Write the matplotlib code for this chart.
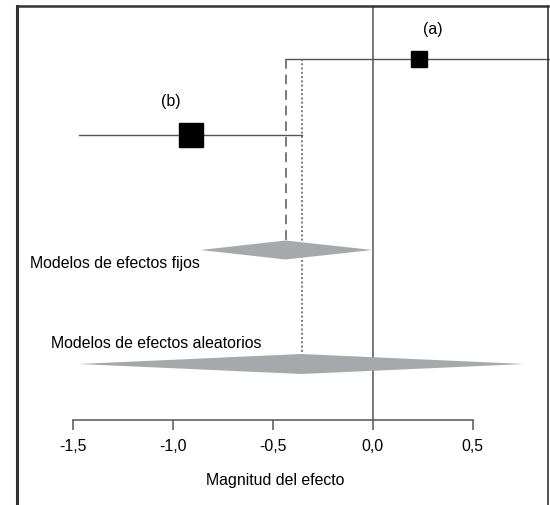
import matplotlib
matplotlib.use("Agg")
import matplotlib.pyplot as plt
from matplotlib.lines import Line2D

plt.rcParams['font.family'] = ['Liberation Sans', 'DejaVu Sans']

# individual studies
study_labels = ["(a)", "(b)"]
study_est = [0.23, -0.91]
study_lo = [-0.435, -1.47]
study_hi = [0.88, -0.355]

# pooled estimates
pooled_names = ["Modelos de efectos fijos", "Modelos de efectos aleatorios"]
pooled_est = [-0.435, -0.355]
pooled_lo = [-0.86, -1.47]
pooled_hi = [0.0, 0.76]

xticks = [-1.5, -1.0, -0.5, 0.0, 0.5]
xtick_labels = ["-1,5", "-1,0", "-0,5", "0,0", "0,5"]

W, H = 550, 505
FS = 11.4
fig = plt.figure(figsize=(W / 100, H / 100), dpi=100)
ax = fig.add_axes([0, 85 / H, 1, 414 / H])
ax.set_xlim(-372.5 / 200, (W - 372.5) / 200)
ax.set_ylim(420, 6)

# row positions (pixels from top)
study_y = [59, 135]
pooled_y = [250, 364]
half_h = [9.5, 10]
msize = [12, 17]

gray_line = "#555555"
diamond_col = "#a6a9ac"

ax.axvline(0, color=gray_line, lw=1.1, zorder=1)

for lab, e, lo, hi, y, ms in zip(study_labels, study_est, study_lo, study_hi, study_y, msize):
    ax.plot([lo, hi], [y, y], color=gray_line, lw=1.0, zorder=2)
    ax.plot(e, y, marker="s", ms=ms, color="black", mec="black", zorder=3)

ax.annotate(study_labels[0], (study_est[0], study_y[0]), xytext=(10, 21),
            textcoords="offset points", ha="center", va="center", fontsize=FS)
ax.annotate(study_labels[1], (study_est[1], study_y[1]), xytext=(-14, 24),
            textcoords="offset points", ha="center", va="center", fontsize=FS)

# reference lines from top study down to pooled diamonds
ax.plot([pooled_est[0]] * 2, [study_y[0], pooled_y[0]], color="#7a7a7a", lw=1.4,
        ls=(0, (5, 3)), zorder=1)
ax.plot([pooled_est[1]] * 2, [study_y[0], pooled_y[1]], color="#7a7a7a", lw=1.4,
        ls=(0, (1, 1.2)), zorder=1)

for e, lo, hi, y, hh in zip(pooled_est, pooled_lo, pooled_hi, pooled_y, half_h):
    ax.fill([lo, e, hi, e], [y, y - hh, y, y + hh], color=diamond_col, lw=0, zorder=2)

ax.text(-1.7125, 263, pooled_names[0], ha="left", va="center", fontsize=FS)
ax.text(-1.6075, 343, pooled_names[1], ha="left", va="center", fontsize=FS)

for s in ["top", "right", "left"]:
    ax.spines[s].set_visible(False)
ax.spines["bottom"].set_bounds(-1.5, 0.5)
ax.spines["bottom"].set_color(gray_line)
ax.spines["bottom"].set_linewidth(1.1)
ax.set_yticks([])
ax.set_xticks(xticks)
ax.set_xticklabels(xtick_labels, fontsize=FS)
ax.tick_params(axis="x", length=7, width=1.1, color=gray_line, pad=7)
ax.set_xlabel("Magnitud del efecto", fontsize=FS, labelpad=13)
ax.patch.set_visible(False)

# outer frame (open at the bottom)
fx0, fx1, fy1 = 17 / W, 548 / W, 1 - 6 / H
fig.add_artist(Line2D([fx0, fx0], [0, fy1], color="#333333", lw=2.2))
fig.add_artist(Line2D([fx0, fx1], [fy1, fy1], color="#333333", lw=1.8))
fig.add_artist(Line2D([fx1, fx1], [0, fy1], color="#333333", lw=1.2))

fig.savefig("out.png", dpi=100)
